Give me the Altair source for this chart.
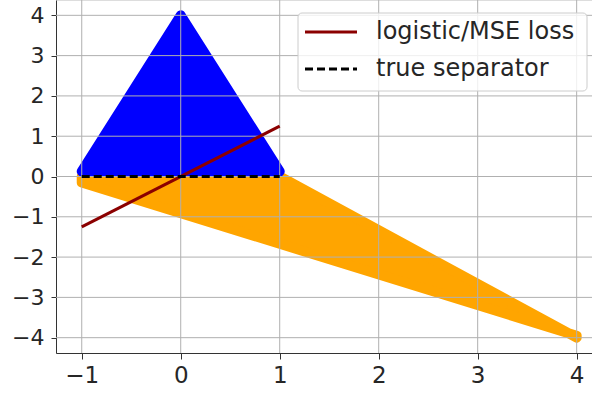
import altair as alt
import pandas as pd

# Class regions (outline vertices of the two point clouds)
blue_x = [-1.0, 0.0, 1.0]
blue_top = [0.0, 4.0, 0.0]
blue_bottom = [0.0, 0.0, 0.0]

orange_x = [-1.0, 1.0, 4.0]
orange_top = [0.0, 0.0, -4.0]
orange_bottom = [-0.15, -1.67, -3.95]

# Fitted decision boundary and the true separator
loss_x = [-1.0, 1.0]
loss_y = [-1.25, 1.25]
sep_x = [-1.0, 1.0]
sep_y = [0.0, 0.0]

x_ticks = [-1, 0, 1, 2, 3, 4]
y_ticks = [-4, -3, -2, -1, 0, 1, 2, 3, 4]
legend_labels = ["logistic/MSE loss", "true separator"]

FONT = "DejaVu Sans"
PLOT_W, PLOT_H = 536, 353
Y_DOMAIN = [-4.38, 4.38]
RIM = 10  # marker-edge rim width in px

xs = alt.Scale(domain=[-1.26, 4.155], nice=False, zero=False)
ys = alt.Scale(domain=Y_DOMAIN, nice=False, zero=False)

x_axis = alt.Axis(values=x_ticks, grid=False, title=None, labelFontSize=23,
                  labelFont=FONT, labelColor="#262626", tickSize=6,
                  tickColor="#333333", domainColor="#333333", labelPadding=5,
                  labelFlush=False, labelOverlap=False, format="d")
y_axis = alt.Axis(values=y_ticks, grid=False, title=None, labelFontSize=22,
                  labelFont=FONT, labelColor="#262626", tickSize=5,
                  tickColor="#333333", domainColor="#333333", labelPadding=7,
                  labelFlush=False, labelOverlap=False, format="d")

orange_df = pd.DataFrame({"x": orange_x, "y": orange_top, "y2": orange_bottom})
blue_df = pd.DataFrame({"x": blue_x, "y": blue_top, "y2": blue_bottom})


def closed_outline(xv, top, bottom):
    """Closed path around an area: along the top, back along the bottom."""
    xv, top, bottom = list(xv), list(top), list(bottom)
    px = xv + xv[::-1] + [xv[0]]
    py = top + bottom[::-1] + [top[0]]
    return pd.DataFrame({"x": px, "y": py, "i": list(range(len(px)))})


def upper_outline(xv, top):
    """Open path along the top edge only; end caps kept above the baseline."""
    lift = (RIM / 2) * (Y_DOMAIN[1] - Y_DOMAIN[0]) / PLOT_H
    py = list(top)
    py[0] += lift
    py[-1] += lift
    return pd.DataFrame({"x": list(xv), "y": py, "i": list(range(len(py)))})


def region(df, rim_df, color, with_axes=False):
    enc_x = alt.X("x:Q", scale=xs, axis=x_axis) if with_axes else alt.X("x:Q", scale=xs)
    enc_y = alt.Y("y:Q", scale=ys, axis=y_axis) if with_axes else alt.Y("y:Q", scale=ys)
    fill = alt.Chart(df).mark_area(fill=color, fillOpacity=1).encode(
        x=enc_x, y=enc_y, y2="y2:Q")
    # rounded rim, as left by the scatter markers along the edges
    rim = alt.Chart(rim_df).mark_line(
        color=color, strokeWidth=RIM, strokeJoin="round", strokeCap="round"
    ).encode(x=alt.X("x:Q", scale=xs), y=alt.Y("y:Q", scale=ys),
             order=alt.Order("i:Q"))
    return fill + rim


orange = region(orange_df, closed_outline(orange_x, orange_top, orange_bottom),
                "#FFA500", with_axes=True)
blue = region(blue_df, upper_outline(blue_x, blue_top), "#0000FF")

grid_v = alt.Chart(pd.DataFrame({"x": x_ticks})).mark_rule(
    color="#b0b0b0", strokeWidth=1
).encode(x=alt.X("x:Q", scale=xs))

grid_h = alt.Chart(pd.DataFrame({"y": y_ticks})).mark_rule(
    color="#b0b0b0", strokeWidth=1
).encode(y=alt.Y("y:Q", scale=ys))

loss_line = alt.Chart(pd.DataFrame({"x": loss_x, "y": loss_y})).mark_line(
    color="#8B0000", strokeWidth=3
).encode(x=alt.X("x:Q", scale=xs), y=alt.Y("y:Q", scale=ys))

sep_line = alt.Chart(pd.DataFrame({"x": sep_x, "y": sep_y})).mark_line(
    color="black", strokeWidth=3, strokeDash=[8, 4]
).encode(x=alt.X("x:Q", scale=xs), y=alt.Y("y:Q", scale=ys))

# Legend box in the upper right corner (positions relative to the plot area)
one = pd.DataFrame({"k": [0]})
legend_box = alt.Chart(one).mark_rect(
    fill="white", fillOpacity=0.8, stroke="#cccccc", strokeWidth=1, cornerRadius=4
).encode(x=alt.value(242), x2=alt.value(531), y=alt.value(13), y2=alt.value(91))

legend_red = alt.Chart(one).mark_rule(color="#8B0000", strokeWidth=3).encode(
    x=alt.value(249), x2=alt.value(301), y=alt.value(32))
legend_black = alt.Chart(one).mark_rule(
    color="black", strokeWidth=3, strokeDash=[8, 4]
).encode(x=alt.value(249), x2=alt.value(301), y=alt.value(69))

legend_t1 = alt.Chart(one).mark_text(
    text=legend_labels[0], align="left", baseline="middle", fontSize=24,
    font=FONT, color="#262626"
).encode(x=alt.value(320), y=alt.value(32))
legend_t2 = alt.Chart(one).mark_text(
    text=legend_labels[1], align="left", baseline="middle", fontSize=24,
    font=FONT, color="#262626"
).encode(x=alt.value(320), y=alt.value(69))

chart = alt.layer(
    orange, blue, grid_v, grid_h, loss_line, sep_line,
    legend_box, legend_red, legend_black, legend_t1, legend_t2
).properties(
    width=PLOT_W, height=PLOT_H,
    autosize=alt.AutoSizeParams(type="none"),
    padding={"left": 56, "top": 0, "right": 0, "bottom": 41},
).configure_view(stroke=None).configure(background="white")

chart.save("out.html", embed_options={"renderer": "svg", "actions": False})
